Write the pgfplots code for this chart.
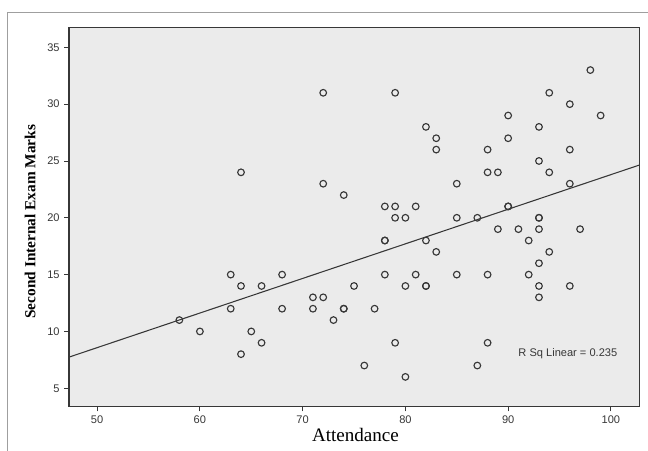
\documentclass[border=0pt]{standalone}
\usepackage{pgfplots}
\pgfplotsset{compat=1.18}
\usepackage{fontspec}
\setmainfont{Liberation Serif}
\setsansfont{Liberation Sans}
\definecolor{bg}{RGB}{235,235,235}
\definecolor{ink}{RGB}{55,55,55}
\begin{document}
\begin{tikzpicture}
\useasboundingbox (-51.75pt,-32.5pt) rectangle (434.25pt,305pt);
\fill[white] (-51.75pt,-32.5pt) rectangle (434.25pt,305pt);
\draw[gray!75, line width=0.6pt] (-46.2pt,-40pt) -- (-46.2pt,295.8pt) -- (440pt,295.8pt);
\begin{axis}[
  at={(0,0)}, anchor=south west,
  scale only axis, width=428pt, height=284.5pt,
  xmin=47.26, xmax=102.8, ymin=3.38, ymax=36.76,
  xtick={50,60,70,80,90,100}, ytick={5,10,15,20,25,30,35},
  axis background/.style={fill=bg},
  axis line style={ink, line width=0.9pt},
  tick align=outside, major tick length=3.5pt,
  tick style={ink, line width=0.7pt},
  xtick pos=bottom, ytick pos=left,
  /pgf/number format/assume math mode=true,
  ticklabel style={font=\sffamily\fontsize{8.3}{10}\selectfont, text=ink},
  xlabel={Attendance},
  ylabel={\textbf{Second Internal Exam Marks}},
  xlabel style={font=\fontsize{14.3}{16}\selectfont, at={(axis description cs:0.502,-0.0746)}, anchor=center},
  ylabel style={font=\fontsize{11.5}{13}\selectfont, at={(axis description cs:-0.0683,0.4876)}, anchor=center},
  clip=true,
]
\addplot[ink, line width=0.8pt] coordinates {(47.26,7.74) (102.8,24.65)};
\addplot[only marks, mark=o, mark size=2.5pt, mark options={ink, line width=0.85pt}] coordinates {
(58,11) (60,10) (63,15) (63,12) (64,24) (64,14) (64,8) (65,10) (66,14) (66,9)
(68,15) (68,12) (71,13) (71,12) (72,31) (72,23) (72,13) (73,11) (74,22) (74,12) (74,12)
(75,14) (76,7) (77,12) (78,21) (78,18) (78,18) (78,15) (79,31) (79,21) (79,20) (79,9)
(80,20) (80,14) (80,6) (81,21) (81,15) (82,28) (82,18) (82,14) (82,14)
(83,27) (83,26) (83,17) (85,23) (85,20) (85,15) (87,20) (87,7)
(88,26) (88,24) (88,15) (88,9) (89,24) (89,19) (90,29) (90,27) (90,21) (90,21)
(91,19) (92,18) (92,15) (93,28) (93,25) (93,20) (93,20) (93,19) (93,16) (93,14) (93,13)
(94,31) (94,24) (94,17) (96,30) (96,26) (96,23) (96,14) (97,19) (98,33) (99,29)
};
\node[anchor=west, inner sep=0pt, font=\sffamily\fontsize{8.3}{10}\selectfont, text=ink] at (axis cs:90.98,8.03) {R Sq Linear = 0.235};
\end{axis}
\end{tikzpicture}
\end{document}
